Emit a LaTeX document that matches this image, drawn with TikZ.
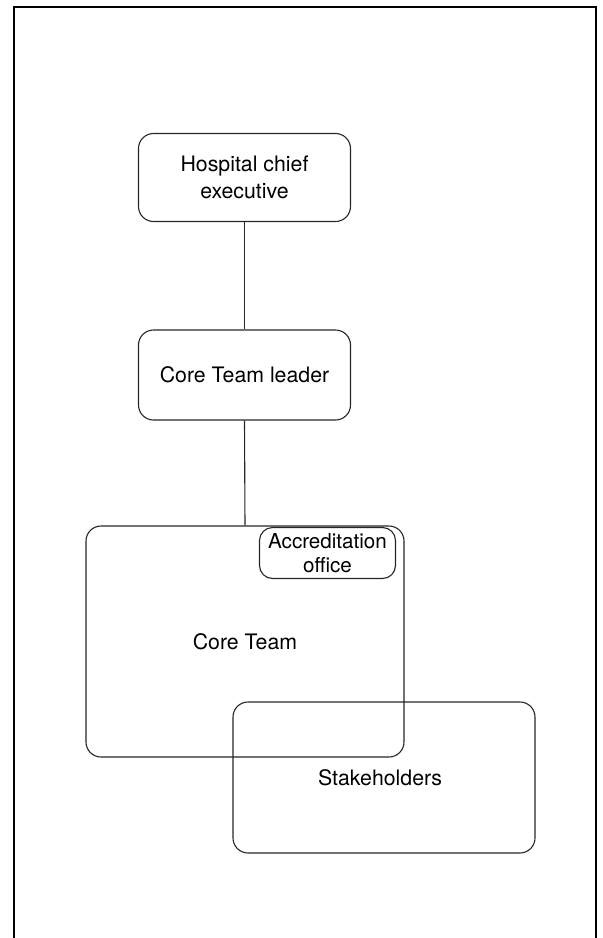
\documentclass[tikz,border=0pt]{standalone}
\usepackage{fontspec}
\setmainfont{TeX Gyre Heros}
\begin{document}
\begin{tikzpicture}[x=1pt,y=-1pt,
  box/.style={draw=black!85, line width=1.1pt, rounded corners=15pt, inner sep=0pt,
    align=center, font=\fontsize{21.3}{27.5}\selectfont},
  conn/.style={draw=black!85, line width=1.1pt}]
\useasboundingbox (0,0) rectangle (603,938);
\draw[line width=1.4pt] (14,940) -- (14,7) -- (596,7) -- (596,940);
\node[box, minimum width=212pt, minimum height=88pt] (hce) at (244.5,177.5) {Hospital chief\\executive};
\node[box, minimum width=212pt, minimum height=90pt] (ctl) at (244.5,375) {Core Team leader};
\node[box, minimum width=318pt, minimum height=231pt] (ct) at (245,641.5) {Core Team};
\node[box, minimum width=302pt, minimum height=151pt] (sh) at (384,777.5) {};
\node[font=\fontsize{21.3}{25}\selectfont] (shl) at (380,777.5) {Stakeholders};
\node[box, minimum width=136pt, minimum height=51pt, rounded corners=13pt, fill=white,
  font=\fontsize{20.6}{24}\selectfont] (acc) at (327.5,553) {Accreditation\\office};
\draw[conn] (hce.south) -- (ctl.north);
\draw[conn] (ctl.south) -- (ct.north);
\end{tikzpicture}
\end{document}
